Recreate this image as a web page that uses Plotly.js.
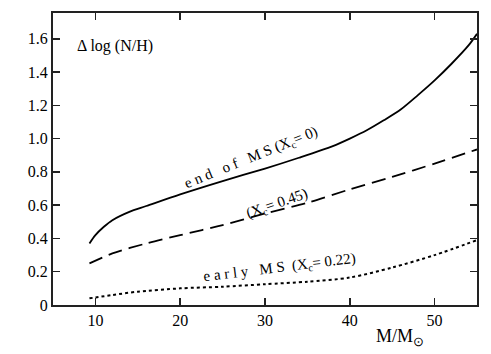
<!DOCTYPE html>
<html>
<head>
<meta charset="utf-8">
<script src="https://cdn.plot.ly/plotly-3.0.1.min.js"></script>
<style>
  html, body { margin: 0; padding: 0; background: #fff; }
  #chart { width: 491px; height: 354px; }
</style>
</head>
<body>
<div id="chart"></div>
<script>
// end of MS (Xc = 0), solid
var massEnd = [9.3, 10, 11, 12, 14, 16, 20, 25, 30, 34, 38, 40, 42, 44, 46, 48, 50, 52, 54, 55];
var dnEnd = [0.37, 0.42, 0.47, 0.51, 0.56, 0.595, 0.665, 0.745, 0.82, 0.885, 0.955, 1.0, 1.05, 1.11, 1.175, 1.26, 1.35, 1.45, 1.56, 1.63];

// Xc = 0.45, dashed
var massMid = [9.3, 12, 16, 20, 25, 30, 35, 40, 45, 50, 55];
var dnMid = [0.25, 0.31, 0.37, 0.42, 0.48, 0.55, 0.615, 0.695, 0.77, 0.85, 0.935];

// early MS (Xc = 0.22), dotted
var massEarly = [9.3, 12, 15, 20, 25, 30, 35, 40, 45, 50, 55];
var dnEarly = [0.04, 0.06, 0.08, 0.10, 0.11, 0.125, 0.14, 0.165, 0.225, 0.30, 0.39];

var xTicks = [10, 20, 30, 40, 50];
var yTicks = [0, 0.2, 0.4, 0.6, 0.8, 1.0, 1.2, 1.4, 1.6];
var yTickText = ['0', '0.2', '0.4', '0.6', '0.8', '1.0', '1.2', '1.4', '1.6'];

var serif = 'Liberation Serif, Times New Roman, serif';

function curve(x, y, dash){
  return {
    x: x, y: y,
    mode: 'lines',
    type: 'scatter',
    line: {color: '#000', width: dash === 'dot' ? 2 : 1.8, dash: dash, shape: 'spline', smoothing: 0.8},
    hoverinfo: 'skip'
  };
}

var data = [
  curve(massEnd, dnEnd, 'solid'),
  curve(massMid, dnMid, '14px,7px'),
  curve(massEarly, dnEarly, 'dot')
];

var layout = {
  width: 491,
  height: 354,
  margin: {l: 53, r: 14, t: 13, b: 49},
  showlegend: false,
  paper_bgcolor: '#fff',
  plot_bgcolor: '#fff',
  font: {family: serif, size: 16, color: '#000'},
  xaxis: {
    range: [5, 55],
    tickvals: xTicks,
    ticks: 'inside',
    ticklen: 7,
    tickwidth: 1.5,
    tickcolor: '#222',
    showline: true,
    linecolor: '#222',
    linewidth: 2,
    mirror: 'ticks',
    showgrid: false,
    zeroline: false,
    tickfont: {family: serif, size: 16}
  },
  yaxis: {
    range: [0, 1.755],
    tickvals: yTicks,
    ticktext: yTickText,
    ticks: 'inside',
    ticklen: 7,
    tickwidth: 1.5,
    tickcolor: '#222',
    showline: true,
    linecolor: '#222',
    linewidth: 2,
    mirror: 'ticks',
    showgrid: false,
    zeroline: false,
    tickfont: {family: serif, size: 16}
  },
  annotations: [
    {xref: 'x', yref: 'y', x: 7.6, y: 1.555, xanchor: 'left', yanchor: 'middle',
     text: '\u0394 log (N/H)', showarrow: false, font: {family: serif, size: 16}},
    {xref: 'x', yref: 'y', x: 28.4, y: 0.885, textangle: -22,
     text: 'e n d &nbsp; o f &nbsp; M S (X<sub>c</sub>= 0)', showarrow: false, font: {family: serif, size: 15}},
    {xref: 'x', yref: 'y', x: 31.4, y: 0.61, textangle: -19,
     text: '(X<sub>c</sub>= 0.45)', showarrow: false, font: {family: serif, size: 15}},
    {xref: 'x', yref: 'y', x: 31.7, y: 0.225, textangle: -7,
     text: 'e a r l y &nbsp; M S &nbsp;(X<sub>c</sub>= 0.22)', showarrow: false, font: {family: serif, size: 15}},
    {xref: 'paper', yref: 'paper', x: 0.818, y: -0.11, xanchor: 'center', yanchor: 'middle',
     text: 'M/M<sub>\u2299</sub>', showarrow: false, font: {family: serif, size: 18}}
  ]
};

Plotly.newPlot('chart', data, layout, {staticPlot: true});
</script>
</body>
</html>
